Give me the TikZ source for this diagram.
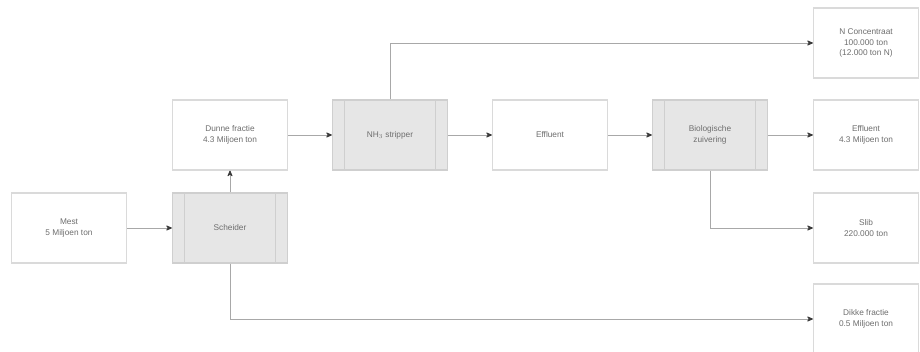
\documentclass[tikz,border=0pt]{standalone}
\usepackage{fontspec}
\setmainfont{Liberation Sans}
\usetikzlibrary{arrows.meta}
\definecolor{edgegray}{HTML}{DADADA}
\definecolor{procfill}{HTML}{E6E6E6}
\definecolor{procedge}{HTML}{CFCFCF}
\definecolor{txtgray}{HTML}{6E6E6E}
\definecolor{linegray}{HTML}{A8A8A8}
\definecolor{tipgray}{HTML}{3A3A3A}
\tikzset{
  databox/.style={draw=edgegray, line width=1.2pt, fill=white, minimum width=115pt,
    minimum height=70pt, align=center, text=txtgray, font=\fontsize{8.3}{10.5}\selectfont},
  procbox/.style={draw=procedge, line width=1.2pt, fill=procfill, minimum width=115pt,
    minimum height=70pt, align=center, text=txtgray, font=\fontsize{8.3}{10.5}\selectfont},
  flow/.style={draw=linegray, line width=0.8pt,
    -{Stealth[length=7pt,width=6pt,round,color=tipgray]}},
}
% vertical bars inside a process box
\newcommand{\procbars}[1]{%
  \draw[procedge, line width=1pt] ([xshift=13pt]#1.north west) -- ([xshift=13pt]#1.south west);
  \draw[procedge, line width=1pt] ([xshift=-13pt]#1.north east) -- ([xshift=-13pt]#1.south east);
}
\begin{document}
\begin{tikzpicture}[x=1pt,y=-1pt]
\useasboundingbox[fill=white] (0,0) rectangle (920,352);

\node[databox] (mest) at (69,228) {Mest\\5 Miljoen ton};
\node[procbox] (sch) at (230,228) {Scheider};
\node[databox] (dun) at (230,135) {Dunne fractie\\4.3 Miljoen ton};
\node[procbox] (nh3) at (390,135) {NH$_3$ stripper};
\node[databox] (eff) at (550,135) {Effluent};
\node[procbox] (bio) at (710,135) {Biologische\\zuivering};
\node[databox, minimum width=105pt] (nco) at (866,43) {N Concentraat\\100.000 ton\\(12.000 ton N)};
\node[databox, minimum width=105pt] (eff2) at (866,135) {Effluent\\4.3 Miljoen ton};
\node[databox, minimum width=105pt] (slib) at (866,228) {Slib\\220.000 ton};
\node[databox, minimum width=105pt] (dik) at (866,319) {Dikke fractie\\0.5 Miljoen ton};

\procbars{sch}
\procbars{nh3}
\procbars{bio}

\draw[flow] (mest) -- (sch);
\draw[flow] (sch) -- (dun);
\draw[flow] (dun) -- (nh3);
\draw[flow] (nh3) -- (eff);
\draw[flow] (eff) -- (bio);
\draw[flow] (bio) -- (eff2);
\draw[flow] (nh3.north) |- (nco.west);
\draw[flow] (bio.south) |- (slib.west);
\draw[flow] (sch.south) |- (dik.west);
\end{tikzpicture}
\end{document}
